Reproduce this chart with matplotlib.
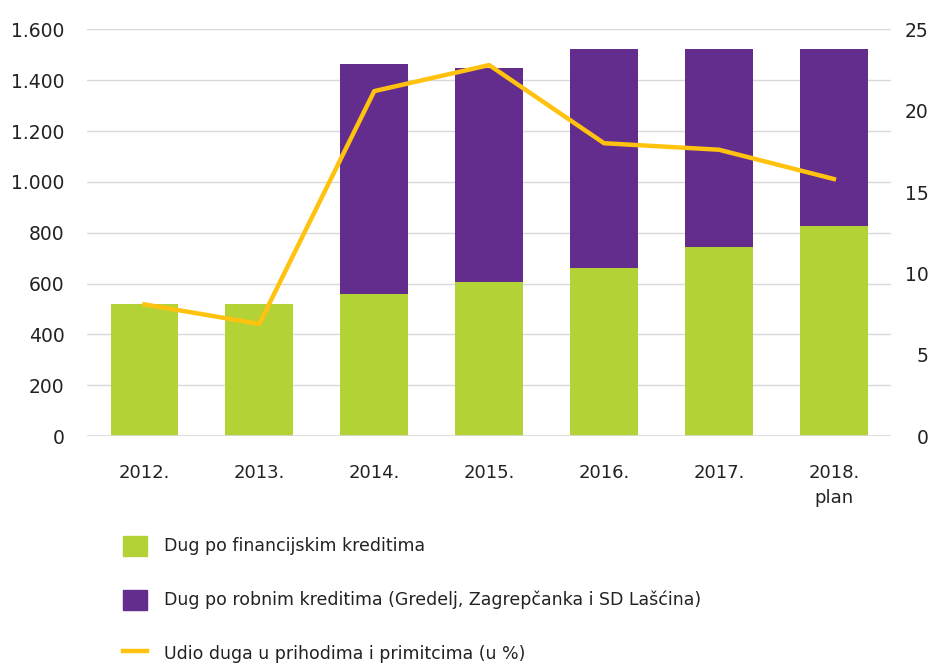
import numpy as np
import matplotlib
matplotlib.use('Agg')
import matplotlib.pyplot as plt
from matplotlib.patches import Patch
from matplotlib.lines import Line2D

plt.rcParams['font.family'] = ['DejaVu Sans']

# podaci
godine = ['2012.', '2013.', '2014.', '2015.', '2016.', '2017.', '2018.\nplan']
financijski = [520, 520, 560, 605, 660, 743, 825]
robni = [0, 0, 902, 842, 861, 778, 696]
udio = [8.1, 6.9, 21.2, 22.8, 18.0, 17.6, 15.8]

zelena = '#b3d235'
ljubicasta = '#632d8d'
zuta = '#ffc20e'

fig = plt.figure(figsize=(9.31, 6.65), dpi=100)
ax = fig.add_axes([0.0934, 0.344, 0.864, 0.612])
x = np.arange(len(godine))

ax.bar(x, financijski, width=0.59, color=zelena, zorder=2)
ax.bar(x, robni, width=0.59, bottom=financijski, color=ljubicasta, zorder=2)
ax.axhline(0, color='#d9d9d9', linewidth=1.2, zorder=3)
ax.set_ylim(0, 1600)
ax.set_xlim(-0.5, len(godine) - 0.5)
ax.set_yticks(np.arange(0, 1601, 200))
ax.set_yticklabels(['{:,}'.format(v).replace(',', '.') for v in range(0, 1601, 200)])
ax.grid(axis='y', color='#d9d9d9', linewidth=1, zorder=0)
ax.set_xticks(x)
ax.set_xticklabels(godine, fontsize=13, color='#222222', linespacing=1.5)
ax.tick_params(axis='x', length=0, pad=20)
ax.tick_params(axis='y', length=0, pad=16, labelsize=13.5, labelcolor='#222222')
for s in ax.spines.values():
    s.set_visible(False)

ax2 = ax.twinx()
ax2.plot(x, udio, color=zuta, linewidth=3.2, zorder=3)
ax2.set_ylim(0, 25)
ax2.set_yticks(np.arange(0, 26, 5))
ax2.tick_params(axis='y', length=0, pad=27, labelsize=13.5, labelcolor='#222222')
for lbl in ax2.get_yticklabels():
    lbl.set_horizontalalignment('right')
for s in ax2.spines.values():
    s.set_visible(False)

handles = [Patch(color=zelena), Patch(color=ljubicasta), Line2D([], [], color=zuta, linewidth=3.2)]
labels = ['Dug po financijskim kreditima',
          'Dug po robnim kreditima (Gredelj, Zagrepčanka i SD Lašćina)',
          'Udio duga u prihodima i primitcima (u %)']
fig.legend(handles, labels, loc='upper left', bbox_to_anchor=(0.115, 0.218),
           frameon=False, fontsize=12.5, labelspacing=1.95, handlelength=1.4,
           handleheight=1.4, handletextpad=1.0, labelcolor='#222222')

plt.savefig('out.png', dpi=100)
